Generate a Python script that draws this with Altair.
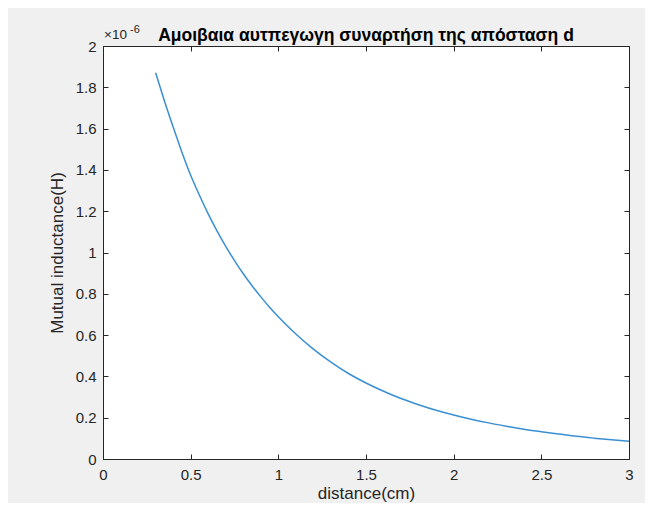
import altair as alt
import pandas as pd

# values (y in units of 1e-6 H)
distance_cm = [0.3, 0.35, 0.4, 0.45, 0.5, 0.55, 0.6, 0.65, 0.7, 0.75, 0.8, 0.85,
               0.9, 0.95, 1.0, 1.1, 1.2, 1.3, 1.4, 1.5, 1.6, 1.7, 1.8, 1.9, 2.0,
               2.1, 2.2, 2.3, 2.4, 2.5, 2.6, 2.7, 2.8, 2.9, 3.0]
mutual_uH = [1.870, 1.735, 1.608, 1.486, 1.374, 1.277, 1.187, 1.105, 1.030, 0.961, 0.897, 0.839,
             0.785, 0.735, 0.689, 0.605, 0.532, 0.469, 0.414, 0.368, 0.328, 0.293, 0.263, 0.236, 0.213,
             0.193, 0.175, 0.159, 0.144, 0.132, 0.121, 0.110, 0.101, 0.093, 0.086]
x_ticks = [0, 0.5, 1, 1.5, 2, 2.5, 3]
y_ticks = [0, 0.2, 0.4, 0.6, 0.8, 1, 1.2, 1.4, 1.6, 1.8, 2]
title_text = "Αμοιβαια αυτπεγωγη συναρτήση της απόσταση d"
x_title = "distance(cm)"
y_title = "Mutual inductance(H)"
exp_base = ["×10"]
exp_power = ["-6"]

df = pd.DataFrame({"d": distance_cm, "M": mutual_uH})
ann = pd.DataFrame({"d": [x_ticks[0]], "M": [y_ticks[-1]], "base": exp_base, "pw": exp_power})

FONT = "Liberation Sans"
AX = "#262626"
xs = alt.Scale(domain=[0, 3], nice=False, zero=False)
ys = alt.Scale(domain=[0, 2], nice=False, zero=False)


def ax(orient, labels, title, vals, **kw):
    return alt.Axis(orient=orient, values=vals, format="~g", domain=False, grid=False,
                    tickSize=5, offset=-5, tickColor=AX, tickWidth=1,
                    labels=labels, labelFlush=False, labelOverlap=False,
                    title=title, labelFont=FONT, labelFontSize=15,
                    labelColor=AX, titleFont=FONT, titleFontSize=17,
                    titleColor=AX, titleFontWeight="normal", **kw)


line = alt.Chart(df).mark_line(color="#3a8fd3", strokeWidth=1.5, interpolate="monotone").encode(
    x=alt.X("d:Q", scale=xs, axis=ax("bottom", True, x_title, x_ticks, labelPadding=8, titlePadding=3)),
    y=alt.Y("M:Q", scale=ys, axis=ax("left", True, y_title, y_ticks, labelPadding=7, titlePadding=9)),
)

frame = alt.Chart(df).mark_line(strokeOpacity=0).encode(
    x=alt.X("d:Q", scale=xs, axis=ax("top", False, None, x_ticks)),
    y=alt.Y("M:Q", scale=ys, axis=ax("right", False, None, y_ticks)),
)

t1 = alt.Chart(ann).mark_text(font=FONT, fontSize=13.5, color=AX, align="left",
                              baseline="alphabetic", dx=1, dy=-7).encode(
    x=alt.X("d:Q", scale=xs, axis=None),
    y=alt.Y("M:Q", scale=ys, axis=None),
    text="base:N",
)
t2 = alt.Chart(ann).mark_text(font=FONT, fontSize=11, color=AX, align="left",
                              baseline="alphabetic", dx=27, dy=-13).encode(
    x=alt.X("d:Q", scale=xs, axis=None),
    y=alt.Y("M:Q", scale=ys, axis=None),
    text="pw:N",
)

chart = alt.layer(line, frame, t1, t2).resolve_axis(
    x="independent", y="independent"
).properties(
    width=526, height=413,
    padding={"left": 95, "top": 38, "right": 16, "bottom": 44},
    autosize=alt.AutoSizeParams(type="none"),
    background="#f0f0f0",
    title=alt.TitleParams(title_text, font=FONT, fontSize=17.5, fontWeight="bold",
                          color="#000000", anchor="middle", frame="group", offset=7, dy=27),
).configure_view(fill="white", stroke=AX, strokeWidth=1)

chart.save("out.html", embed_options={"renderer": "svg", "actions": False})
